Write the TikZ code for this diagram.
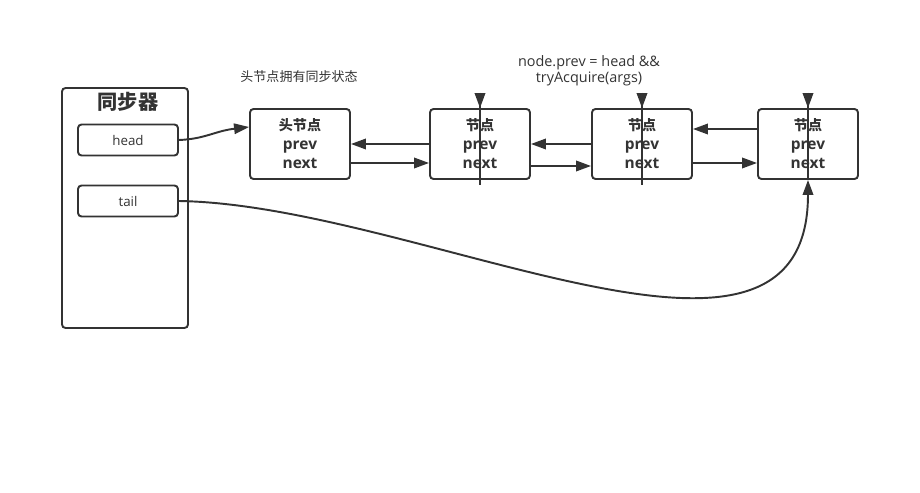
\documentclass[tikz,border=0pt]{standalone}
\usepackage{fontspec}
\setmainfont{Open Sans}
\newfontfamily\cjk{Noto Sans CJK SC}
\usetikzlibrary{arrows.meta}
\definecolor{ink}{HTML}{333333}
\tikzstyle{frame}=[
        draw=ink,
        line width=1.1pt,
        rounded corners=2pt
]
\tikzstyle{field}=[
        frame,
        minimum width=2cm,
        minimum height=0.62cm,
        font=\fontsize{7.6}{9}\selectfont
]
\tikzstyle{qnode}=[
        frame,
        minimum width=2cm,
        minimum height=1.4cm,
        align=center,
        font=\fontsize{8.8}{10.8}\selectfont\bfseries
]
\tikzstyle{link}=[
        draw=ink,
        line width=1.1pt,
        -{Triangle[length=0.3cm,width=0.21cm]}
]
\tikzstyle{rail}=[
        draw=ink,
        line width=1.1pt
]

\begin{document}
\begin{tikzpicture}[x=0.02cm,y=-0.02cm,text=ink]
                        \useasboundingbox (0,0) rectangle (920,493);

                        \node[frame,minimum width=2.52cm,minimum height=4.8cm] (sync) at (125,208) {};
                        \node[font=\fontsize{11.5}{12}\selectfont\bfseries\cjk] (title) at (128,102) {同步器};
                        \node[field] (head) at (128,140) {head};
                        \node[field] (tail) at (128,201) {tail};

                        \node[qnode] (n1) at (300,144) {{\fontsize{8}{10.8}\selectfont\cjk 头节点}\\prev\\next};
                        \node[qnode] (n2) at (480,144) {{\fontsize{8}{10.8}\selectfont\cjk 节点}\\prev\\next};
                        \node[qnode] (n3) at (642,144) {{\fontsize{8}{10.8}\selectfont\cjk 节点}\\prev\\next};
                        \node[qnode] (n4) at (808,144) {{\fontsize{8}{10.8}\selectfont\cjk 节点}\\prev\\next};

                        \node[font=\fontsize{7.4}{9}\selectfont\cjk] (note1) at (299,77) {头节点拥有同步状态};
                        \node[font=\fontsize{8.2}{9}\selectfont,align=center] (note2) at (589,70.5) {node.prev = head \&\&\\tryAcquire(args)};

                        \coordinate (t2) at (480,93);
                        \coordinate (b2) at (480,185);
                        \coordinate (t3) at (642,93);
                        \coordinate (b3) at (642,185);
                        \coordinate (t4) at (808,93);

                        % vertical markers
                        \draw[rail] (t2) -- (b2);
                        \draw[rail] (t3) -- (b3);
                        \draw[rail] (t4) -- (n4.south);
                        \draw[link] (t2) -- (n2.north);
                        \draw[link] (t3) -- (n3.north);
                        \draw[link] (t4) -- (n4.north);

                        % prev / next
                        \draw[link] (n2.west) -- (n1.east);
                        \draw[link] ([yshift=-0.38cm]n1.east) -- ([yshift=-0.38cm]n2.west);
                        \draw[link] (n3.west) -- (n2.east);
                        \draw[link] ([yshift=-0.44cm]n2.east) -- ([yshift=-0.44cm]n3.west);
                        \draw[link] ([yshift=0.3cm]n4.west) -- ([yshift=0.3cm]n3.east);
                        \draw[link] ([yshift=-0.38cm]n3.east) -- ([yshift=-0.38cm]n4.west);

                        \draw[link] (head.east) .. controls (205,139) and (215,131) .. ([yshift=0.34cm]n1.west);
                        \draw[link] (tail.east) .. controls (420,205) and (808,422) .. (n4.south);
                    \end{tikzpicture}
\end{document}
